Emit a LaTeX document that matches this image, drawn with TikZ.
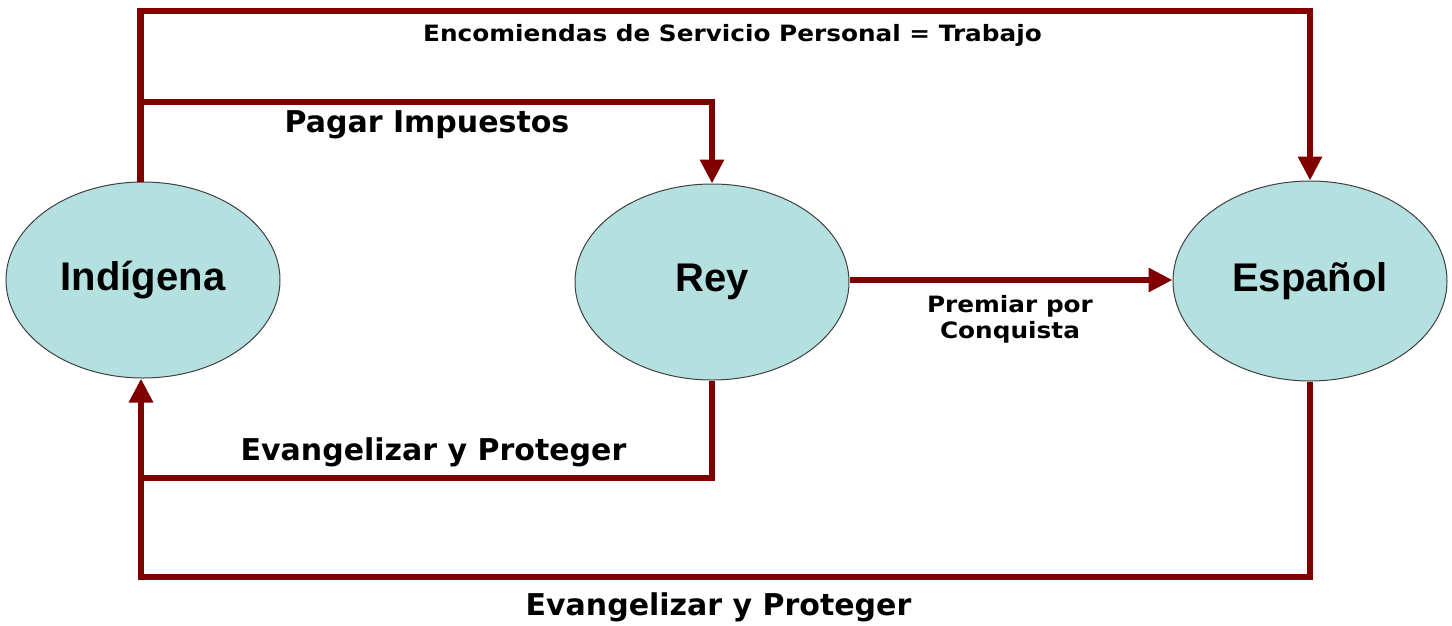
\documentclass[tikz,border=0pt]{standalone}
\usepackage{fontspec}
\setmainfont{Liberation Sans}
\newfontfamily\lblfont{DejaVu Sans}
\newfontfamily\slblfont[FakeStretch=1.1]{DejaVu Sans}
\usetikzlibrary{arrows.meta,shapes.geometric}
\definecolor{linered}{HTML}{800000}
\definecolor{ellfill}{HTML}{B4E0E0}
\tikzset{
  actor/.style={ellipse, draw=black!75, line width=1pt, fill=ellfill, minimum width=274pt, minimum height=196pt, inner sep=0pt, font=\fontsize{40}{44}\selectfont\bfseries},
  flow/.style={draw=linered, line width=6.5pt, -{Triangle[length=24pt,width=23pt]}},
  flowline/.style={draw=linered, line width=6.5pt},
  lbl/.style={font=\lblfont\bfseries\fontsize{30}{34}\selectfont, inner sep=0pt, anchor=base},
  slbl/.style={font=\slblfont\bfseries\fontsize{22.5}{26}\selectfont, inner sep=0pt, align=center}
}
\begin{document}
\begin{tikzpicture}[x=1pt,y=-1pt]
\useasboundingbox (0,0) rectangle (1452,625);
\node[actor] (ind) at (143,280) {Indígena};
\node[actor] (rey) at (712,282) {Rey};
\node[actor, minimum height=200pt] (esp) at (1310,281) {Español};
\coordinate (tl) at (140.5,11);
\coordinate (tr) at (1310,11);
\coordinate (pl) at (140.5,102);
\coordinate (pr) at (712,102);
\coordinate (el) at (141,478);
\coordinate (er) at (712,478);
\coordinate (bl) at (141,577);
\coordinate (br) at (1310,577);
% outer top
\draw[flow] (ind.north -| tl) -- (tl) -- (tr) -- (esp.north);
% pagar
\draw[flow] (pl) -- (pr) -- (rey.north);
% premiar
\draw[flow] (rey.east |- 0,280) -- (esp.west |- 0,280);
% evangelizar inner
\draw[flowline] (rey.south) -- (er) -- (el);
% evangelizar outer
\draw[flow] (esp.south) -- (br) -- (bl) -- (ind.south -| bl);
% labels
\node[slbl, anchor=base] (l1) at (732.5,41.5) {Encomiendas de Servicio Personal = Trabajo};
\node[lbl] (l2) at (427,132) {Pagar Impuestos};
\node[slbl] (l3) at (1010,319) {Premiar por\\Conquista};
\node[lbl] (l4) at (433.5,460) {Evangelizar y Proteger};
\node[lbl] (l5) at (718.5,615) {Evangelizar y Proteger};
\end{tikzpicture}
\end{document}
